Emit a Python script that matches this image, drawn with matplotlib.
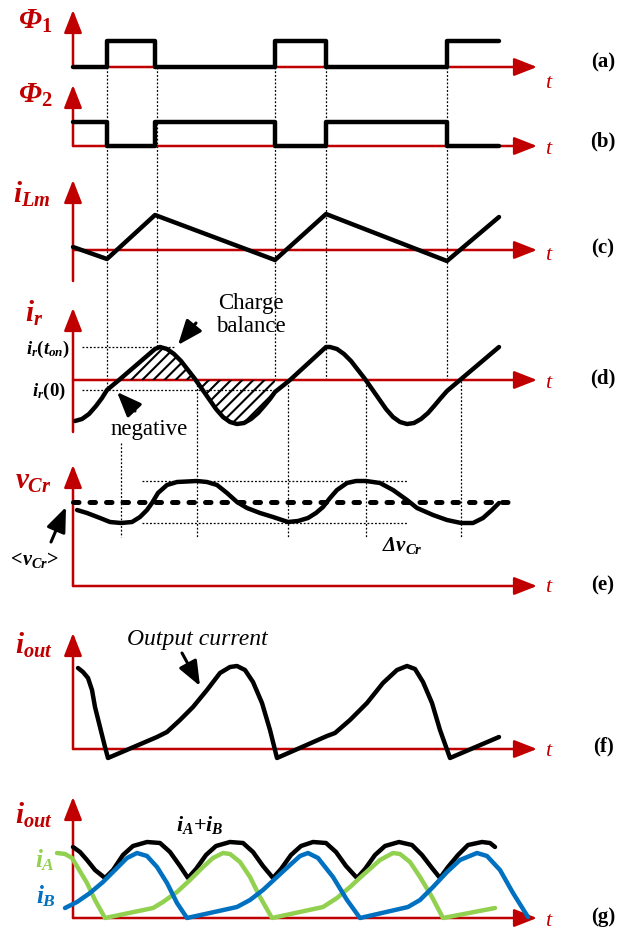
import matplotlib
matplotlib.use("Agg")
import matplotlib.pyplot as plt
import numpy as np

plt.rcParams['font.family'] = ['Liberation Serif', 'DejaVu Serif']
plt.rcParams['mathtext.fontset'] = 'custom'
plt.rcParams['mathtext.it'] = 'Liberation Serif:italic:bold'
plt.rcParams['mathtext.rm'] = 'Liberation Serif:bold'
plt.rcParams['mathtext.bf'] = 'Liberation Serif:bold'
plt.rcParams['hatch.linewidth'] = 1.5

RED = '#C00000'
GREEN = '#92D050'
BLUE = '#0070C0'

# --- layout of the seven panels (pixel units of the drawing) ---
x_axis = 73
x_tip = 537
panel_base = [67, 146, 250, 380, 586, 749, 918]
axis_top = [10, 85, 180, 308, 465, 633, 797]
axis_bottom = [67, 146, 281, 432, 586, 749, 918]
t_label_y = [84, 149, 255, 384, 588, 752, 921]
panel_names = ['(a)', '(b)', '(c)', '(d)', '(e)', '(f)', '(g)']
panel_name_y = [62, 141, 248, 378, 585, 746, 917]

# --- switching instants ---
sw_edges = [73, 107, 155, 275, 326, 447, 499]
phi1_lvl = [67, 41, 67, 41, 67, 41]
phi2_lvl = [122, 146, 122, 146, 122, 146]

# --- magnetizing current ---
ilm_x = [73, 107, 155, 275, 326, 447, 499]
ilm_y = [247, 259, 215, 260, 214, 261, 217]

# --- resonant current ---
ir_x = [75, 82, 89, 96, 102, 107, 119, 155, 160, 167, 174, 181, 188, 195, 202, 209,
        216, 223, 230, 237, 244, 251, 258, 265, 270, 275, 290, 326, 330, 337, 344,
        351, 358, 365, 372, 379, 386, 393, 400, 407, 414, 421, 428, 435, 440, 447, 499]
ir_y = [421, 419, 414, 406, 398, 390, 380, 349, 347, 349, 354, 361, 370, 379, 389, 399,
        409, 417, 422, 424, 423, 419, 413, 405, 399, 392, 380, 347, 347, 349, 354,
        361, 370, 379, 389, 399, 409, 417, 422, 424, 423, 419, 413, 405, 399, 391, 347]

# --- resonant capacitor voltage ---
vcr_x = [77, 87, 100, 110, 121, 132, 140, 147, 152, 158, 167, 177, 197, 207, 217, 227,
         237, 247, 260, 273, 288, 298, 308, 316, 323, 330, 337, 347, 356, 366, 380, 393,
         407, 417, 433, 447, 461, 473, 483, 492, 499]
vcr_y = [510, 513, 518, 522, 523, 522, 517, 510, 503, 493, 485, 482, 481, 482, 485, 493,
         502, 508, 513, 517, 522, 521, 518, 513, 507, 498, 490, 483, 481, 481, 483, 490,
         500, 508, 515, 520, 523, 523, 518, 510, 503]
vcr_mean = 502
vcr_max = 481
vcr_min = 523

# --- output current ---
iout_x = [78, 83, 88, 92, 95, 100, 105, 108, 157, 167, 180, 193, 207, 220, 230, 237,
          245, 253, 262, 270, 277, 327, 335, 350, 367, 383, 397, 407, 415, 423, 432,
          440, 450, 499]
iout_y = [668, 672, 678, 690, 707, 727, 747, 758, 737, 732, 720, 707, 690, 673, 667, 666,
          670, 682, 703, 730, 758, 736, 733, 720, 703, 683, 670, 666, 669, 682, 703,
          730, 758, 737]

# --- interleaved output currents ---
isum_x = [73, 80, 87, 95, 105, 113, 123, 133, 147, 160, 170, 180, 188, 196, 206, 216,
          230, 243, 253, 263, 273, 281, 291, 301, 313, 326, 336, 346, 357, 365, 375,
          385, 399, 412, 422, 432, 440, 448, 458, 468, 482, 490, 495]
isum_y = [847, 852, 860, 870, 878, 870, 855, 846, 842, 843, 852, 866, 878, 869, 855, 846,
          842, 843, 852, 866, 878, 869, 855, 846, 842, 843, 852, 866, 878, 869, 855,
          846, 842, 845, 855, 868, 878, 867, 855, 845, 842, 843, 847]
ia_x = [57, 65, 72, 78, 87, 95, 105, 153, 163, 177, 190, 203, 213, 223, 230, 240, 250,
        260, 272, 323, 337, 350, 363, 380, 393, 400, 410, 420, 432, 443, 495]
ia_y = [853, 854, 858, 868, 883, 900, 918, 908, 902, 892, 880, 867, 858, 853, 854, 862,
        877, 897, 918, 907, 898, 887, 875, 860, 853, 854, 862, 877, 897, 918, 908]
ib_x = [65, 77, 90, 103, 115, 127, 137, 147, 157, 167, 177, 187, 237, 250, 263, 277, 290,
        300, 308, 318, 333, 347, 360, 408, 420, 433, 447, 460, 477, 487, 500, 513, 528]
ib_y = [908, 902, 893, 882, 870, 858, 853, 856, 867, 883, 903, 918, 907, 900, 890, 877,
        865, 856, 853, 858, 877, 900, 918, 907, 900, 887, 872, 860, 853, 856, 870, 893, 917]

fig = plt.figure(figsize=(6.18, 9.35), dpi=100)
ax = fig.add_axes([0, 0, 1, 1])
ax.set_xlim(0, 618)
ax.set_ylim(935, 0)
ax.axis('off')

BLK = dict(color='black', lw=3.2, solid_joinstyle='round', solid_capstyle='round', zorder=4)
DOT = dict(color='black', lw=0.9, ls=(0, (1.5, 1.5)), zorder=1)
AX_ARROW = dict(arrowstyle='-|>,head_length=1.4,head_width=0.55', color=RED, lw=1.8,
                mutation_scale=10, shrinkA=0, shrinkB=0)

# axes of every panel
for k in range(7):
    base = panel_base[k]
    ax.annotate('', xy=(x_axis, axis_top[k]), xytext=(x_axis, axis_bottom[k]),
                arrowprops=AX_ARROW, zorder=2)
    ax.annotate('', xy=(x_tip, base), xytext=(x_axis, base), arrowprops=AX_ARROW, zorder=2)
    ax.text(548, t_label_y[k], 't', color=RED, fontsize=16, style='italic',
            ha='center', va='center')
    ax.text(603, panel_name_y[k], panel_names[k], fontsize=15, fontweight='bold',
            ha='center', va='center')

# (a), (b) gate signals
ax.step(sw_edges, phi1_lvl + phi1_lvl[-1:], where='post', **BLK)
ax.step(sw_edges, phi2_lvl + phi2_lvl[-1:], where='post', **BLK)

# (c)
ax.plot(ilm_x, ilm_y, **BLK)

# (d)
ir_x = np.array(ir_x)
ir_y = np.array(ir_y)
ax.plot(ir_x, ir_y, **BLK)
sel = (ir_x >= 119) & (ir_x <= 275)
ax.fill_between(ir_x[sel], ir_y[sel], panel_base[3], facecolor='none', edgecolor='black',
                hatch='///', lw=0, zorder=3)
ax.plot([82, 175], [347, 347], **DOT)
ax.plot([82, 277], [390, 390], **DOT)

# vertical guides
ax.plot([107, 107], [67, 390], **DOT)
ax.plot([157, 157], [67, 347], **DOT)
for xv in [275, 326, 447]:
    ax.plot([xv, xv], [67, 381], **DOT)
ax.plot([121, 121], [443, 537], **DOT)
for xv in [197, 288, 366, 461]:
    ax.plot([xv, xv], [381, 537], **DOT)

# (e)
ax.plot([x_axis, 518], [vcr_mean, vcr_mean], color='black', lw=3.6,
        ls=(0, (1.1, 2.2)), dash_capstyle='round', zorder=3)
ax.plot(vcr_x, vcr_y, **BLK)
ax.plot([142, 407], [vcr_max, vcr_max], **DOT)
ax.plot([142, 407], [vcr_min, vcr_min], **DOT)

# (f)
ax.plot(iout_x, iout_y, **BLK)

# (g)
ax.plot(isum_x, isum_y, **BLK)
ax.plot(ia_x, ia_y, color=GREEN, lw=3.2, solid_joinstyle='round', solid_capstyle='round', zorder=4)
ax.plot(ib_x, ib_y, color=BLUE, lw=3.2, solid_joinstyle='round', solid_capstyle='round', zorder=5)

# signal names
NAME = dict(color=RED, fontsize=21, ha='center', va='center')
ax.text(35, 21, r'Φ$_{\mathit{1}}$', style='italic', fontweight='bold', **NAME)
ax.text(35, 95, r'Φ$_{\mathit{2}}$', style='italic', fontweight='bold', **NAME)
ax.text(32, 194, r'$i_{Lm}$', **NAME)
ax.text(34, 313, r'$i_r$', **NAME)
ax.text(33, 482, r'$v_{Cr}$', **NAME)
ax.text(34, 645, r'$i_{out}$', **NAME)
ax.text(34, 815, r'$i_{out}$', **NAME)

# annotations
ax.text(70, 349, r'$i_r(t_{on})$', fontsize=13.5, ha='right', va='center')
ax.text(66, 391, r'$i_r(\mathit{0})$', fontsize=13.5, ha='right', va='center')
ax.text(251, 315, 'Charge\nbalance', fontsize=16.5, ha='center', va='center', linespacing=1.1)
ax.text(149, 430, 'negative', fontsize=16.5, ha='center', va='center')
ax.text(402, 545, r'Δ$v_{Cr}$', fontsize=15, style='italic', fontweight='bold',
        ha='center', va='center')
ax.text(33, 560, r'$<\!v_{Cr}\!>$', fontsize=14.5, ha='center', va='center')
ax.text(197, 640, 'Output current', fontsize=17, style='italic', ha='center', va='center')
ax.text(200, 825, r'$i_A{+}i_B$', fontsize=16, ha='center', va='center')
ax.text(45, 860, r'$i_A$', color=GREEN, fontsize=18, ha='center', va='center')
ax.text(46, 896, r'$i_B$', color=BLUE, fontsize=18, ha='center', va='center')

PTR = dict(arrowstyle='-|>,head_length=1.5,head_width=0.6', color='black', lw=2.2,
           mutation_scale=10, shrinkA=0, shrinkB=0)
ax.annotate('', xy=(178, 345), xytext=(196, 323), arrowprops=PTR, zorder=6)
ax.annotate('', xy=(117, 392), xytext=(135, 411), arrowprops=PTR, zorder=6)
ax.annotate('', xy=(66, 507), xytext=(51, 542), arrowprops=PTR, zorder=6)
ax.annotate('', xy=(200, 686), xytext=(182, 653), arrowprops=PTR, zorder=6)

fig.savefig('out.png', dpi=100)
